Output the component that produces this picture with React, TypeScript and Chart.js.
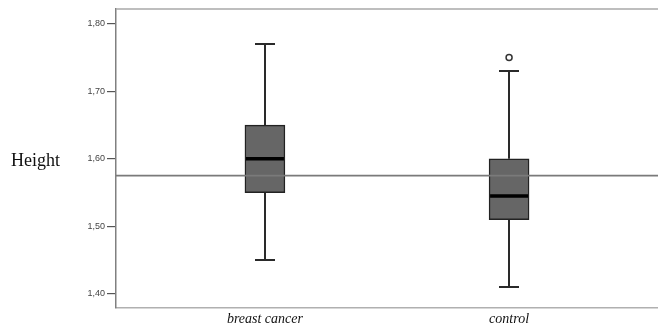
import React, { useEffect, useRef } from "react";
import { Chart, registerables } from "chart.js";

Chart.register(...registerables);

const categories = ["breast cancer", "control"];
const whiskerLow = [1.45, 1.41];
const q1 = [1.55, 1.51];
const median = [1.6, 1.545];
const q3 = [1.65, 1.6];
const whiskerHigh = [1.77, 1.73];
const outliers: number[][] = [[], [1.75]];
const referenceHeight = 1.575;
const yTicks = [1.4, 1.5, 1.6, 1.7, 1.8];
const yTitle = "Height";

const X_MIN = -0.61;
const X_MAX = 1.61;

const boxPlugin = {
  id: "boxDecor",
  beforeDatasetsDraw(chart: any) {
    const { ctx, scales } = chart;
    const x = scales.x;
    const y = scales.y;
    ctx.save();
    ctx.strokeStyle = "#2a2a2a";
    ctx.lineWidth = 2;
    categories.forEach((_, i) => {
      const cx = Math.round(x.getPixelForValue(i));
      ctx.beginPath();
      ctx.moveTo(cx, y.getPixelForValue(whiskerHigh[i]));
      ctx.lineTo(cx, y.getPixelForValue(q3[i]));
      ctx.moveTo(cx, y.getPixelForValue(q1[i]));
      ctx.lineTo(cx, y.getPixelForValue(whiskerLow[i]));
      ctx.stroke();
      const capHalf = 10;
      ctx.beginPath();
      const yh = y.getPixelForValue(whiskerHigh[i]);
      const yl = y.getPixelForValue(whiskerLow[i]);
      ctx.moveTo(cx - capHalf, yh);
      ctx.lineTo(cx + capHalf, yh);
      ctx.moveTo(cx - capHalf, yl);
      ctx.lineTo(cx + capHalf, yl);
      ctx.stroke();
    });
    ctx.restore();
  },
  afterDatasetsDraw(chart: any) {
    const { ctx, scales, chartArea } = chart;
    const x = scales.x;
    const y = scales.y;
    ctx.save();
    ctx.strokeStyle = "#000";
    ctx.lineWidth = 3.5;
    categories.forEach((_, i) => {
      const cx = x.getPixelForValue(i);
      const ym = y.getPixelForValue(median[i]);
      ctx.beginPath();
      ctx.moveTo(cx - 19, ym);
      ctx.lineTo(cx + 19, ym);
      ctx.stroke();
    });
    ctx.strokeStyle = "#a8a8a8";
    ctx.lineWidth = 1.5;
    ctx.beginPath();
    ctx.moveTo(chartArea.left, chartArea.top);
    ctx.lineTo(chartArea.right, chartArea.top);
    ctx.stroke();
    ctx.restore();
    ctx.save();
    ctx.fillStyle = "#111";
    ctx.font = "18px 'Liberation Serif', 'Times New Roman', serif";
    ctx.textBaseline = "alphabetic";
    ctx.textAlign = "left";
    ctx.fillText(yTitle, 11, 166);
    ctx.restore();
  },
};

export default function App() {
  const ref = useRef<HTMLCanvasElement>(null);
  useEffect(() => {
    if (!ref.current) return;
    const chart = new Chart(ref.current, {
      type: "bar",
      data: {
        datasets: [
          {
            type: "line",
            label: "reference",
            data: [
              { x: X_MIN, y: referenceHeight },
              { x: X_MAX, y: referenceHeight },
            ],
            borderColor: "#7a7a7a",
            borderWidth: 1.8,
            pointRadius: 0,
            order: 0,
          } as any,
          {
            type: "scatter",
            label: "outliers",
            data: outliers.flatMap((arr, i) => arr.map((v) => ({ x: i, y: v }))),
            pointStyle: "circle",
            pointRadius: 3,
            backgroundColor: "#fff",
            borderColor: "#333",
            borderWidth: 1.5,
            order: 1,
          } as any,
          {
            type: "bar",
            label: "box",
            data: categories.map((_, i) => ({ x: i, y: [q1[i], q3[i]] })),
            backgroundColor: "#666666",
            borderColor: "#222",
            borderWidth: 1.5,
            borderSkipped: false,
            barThickness: 40,
            order: 2,
          } as any,
        ],
      },
      options: {
        animation: false,
        responsive: false,
        events: [],
        layout: { autoPadding: false, padding: { top: 9, right: 0, bottom: 0, left: 0 } },
        plugins: {
          legend: { display: false },
          tooltip: { enabled: false },
          title: { display: false },
        },
        scales: {
          x: {
            type: "linear",
            min: X_MIN,
            max: X_MAX,
            offset: false,
            afterBuildTicks: (scale: any) => {
              scale.ticks = categories.map((_, i) => ({ value: i }));
            },
            afterFit: (scale: any) => {
              scale.height = 20;
              scale.paddingLeft = 0;
              scale.paddingRight = 0;
            },
            grid: { display: false, drawTicks: false, tickLength: 0 },
            border: { display: true, color: "#b0b0b0", width: 1.5 },
            ticks: {
              callback: (v: any) => categories[v as number] ?? "",
              color: "#111",
              padding: 3,
              maxRotation: 0,
              autoSkip: false,
              font: {
                family: "'Liberation Serif', 'Times New Roman', serif",
                size: 14,
                style: "italic",
              },
            },
          },
          y: {
            type: "linear",
            min: 1.379,
            max: 1.822,
            afterBuildTicks: (scale: any) => {
              scale.ticks = yTicks.map((v) => ({ value: v }));
            },
            afterFit: (scale: any) => {
              scale.width = 116;
            },
            grid: {
              display: true,
              drawOnChartArea: false,
              drawTicks: true,
              tickLength: 9,
              color: "#555",
              lineWidth: 1.2,
            },
            border: { display: true, color: "#808080", width: 1.5 },
            ticks: {
              padding: 2,
              color: "#444",
              font: { family: "'Liberation Sans', Arial, sans-serif", size: 9 },
              callback: (v: any) => Number(v).toFixed(2).replace(".", ","),
            },
          },
        },
      },
      plugins: [boxPlugin],
    });
    return () => chart.destroy();
  }, []);
  return (
    <div style={{ position: "absolute", left: 0, top: 0, width: 658, height: 328, background: "#fff" }}>
      <canvas ref={ref} width={658} height={328} />
    </div>
  );
}
